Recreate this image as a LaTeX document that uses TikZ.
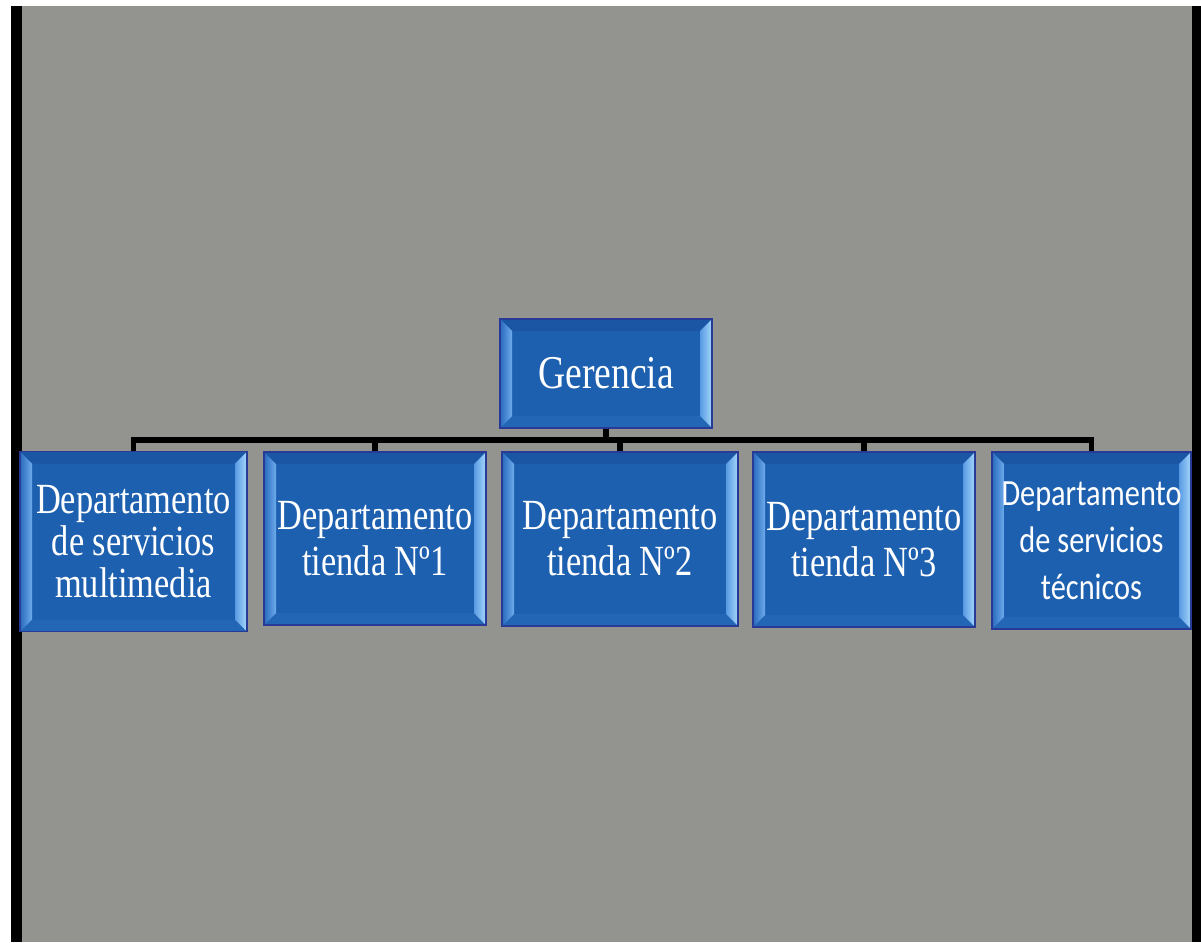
\documentclass[tikz,border=0pt]{standalone}
\usepackage{fontspec}
\usetikzlibrary{calc}
\newfontfamily\boxserif[FakeStretch=0.8]{Liberation Serif}
\newfontfamily\boxsans[FakeStretch=0.82]{Carlito}
\definecolor{bggray}{RGB}{147,148,144}
\definecolor{mainblue}{RGB}{30,96,176}
\definecolor{bordblue}{RGB}{40,58,150}
\definecolor{topblue}{RGB}{26,86,164}
\definecolor{botblue}{RGB}{36,102,182}
\definecolor{leftout}{RGB}{40,106,190}
\definecolor{leftin}{RGB}{110,172,236}
\definecolor{rightout}{RGB}{165,215,252}
\definecolor{rightin}{RGB}{88,154,226}
\tikzset{
  bevelbox/.style={draw=bordblue, line width=1.5pt, fill=mainblue, inner sep=0pt,
    align=center, text=white, anchor=center,
    path picture={
      \coordinate (bvnw) at (path picture bounding box.north west);
      \coordinate (bvne) at (path picture bounding box.north east);
      \coordinate (bvsw) at (path picture bounding box.south west);
      \coordinate (bvse) at (path picture bounding box.south east);
      \fill[topblue] (bvnw) -- (bvne) -- ($(bvne)+(-12,12)$) -- ($(bvnw)+(12,12)$) -- cycle;
      \fill[botblue] (bvsw) -- (bvse) -- ($(bvse)+(-12,-12)$) -- ($(bvsw)+(12,-12)$) -- cycle;
      \shade[left color=leftout, right color=leftin] (bvnw) -- (bvsw) -- ($(bvsw)+(12,-12)$) -- ($(bvnw)+(12,12)$) -- cycle;
      \shade[left color=rightin, right color=rightout] (bvne) -- (bvse) -- ($(bvse)+(-12,-12)$) -- ($(bvne)+(-12,12)$) -- cycle;
    }},
  conn/.style={draw=black, line width=5.5pt},
  serifA/.style={font=\boxserif\fontsize{43}{42}\selectfont},
  serifB/.style={font=\boxserif\fontsize{43}{46}\selectfont},
  sansA/.style={font=\boxsans\fontsize{37}{47}\selectfont}
}
\begin{document}
\begin{tikzpicture}[x=1pt, y=-1pt]
  \useasboundingbox (0,0) rectangle (1201,942);
  \fill[white] (0,0) rectangle (1201,942);
  \fill[black] (11,6) rectangle (22,942);
  \fill[bggray] (22,6) rectangle (1192,942);
  \fill[black] (1192,6) rectangle (1201,942);

  \node[bevelbox, minimum width=212pt, minimum height=109pt,
        font=\boxserif\fontsize{47}{50}\selectfont] (ger) at (606,373.5) {Gerencia};
  \node[bevelbox, serifA, minimum width=227pt, minimum height=180pt] (d1) at (133.5,541.5)
     {Departamento\\de servicios\\multimedia};
  \node[bevelbox, serifB, minimum width=222pt, minimum height=173pt] (d2) at (375,538.5)
     {Departamento\\tienda Nº1};
  \node[bevelbox, serifB, minimum width=236pt, minimum height=174pt] (d3) at (620,539)
     {Departamento\\tienda Nº2};
  \node[bevelbox, serifB, minimum width=222pt, minimum height=175pt] (d4) at (864,539.5)
     {Departamento\\tienda Nº3};
  \node[bevelbox, sansA, minimum width=199pt, minimum height=177pt] (d5) at (1091.5,540.5)
     {Departamento\\de servicios\\técnicos};

  \foreach \c in {d1,d2,d3,d4,d5}
    \draw[conn] (ger.south) -- ++(0,11) -| (\c.north);
\end{tikzpicture}
\end{document}
